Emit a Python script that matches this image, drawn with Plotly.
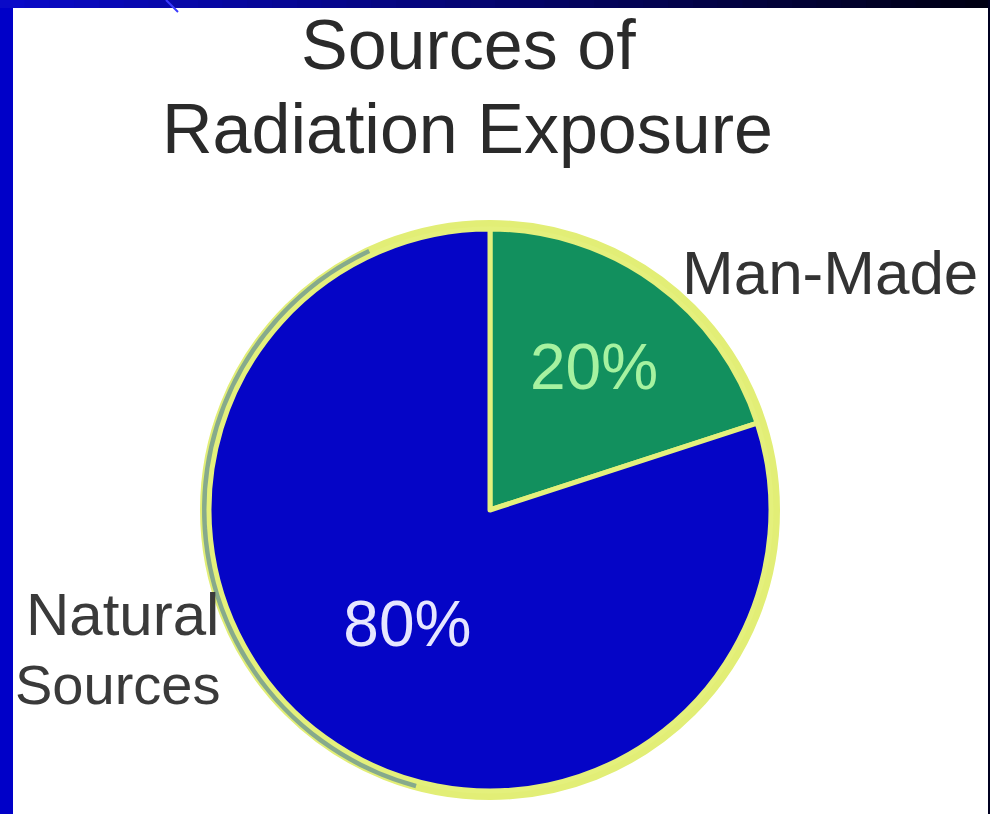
import numpy as np
import plotly.graph_objects as go

# ---- data ----
categories = ["Man-Made", "Natural Sources"]
values = [20, 80]
slice_colors = ["#12905e", "#0505c6"]
pct_colors = ["#a6f2a0", "#e6e6ff"]
title_lines = ["Sources of", "Radiation Exposure"]

W, H = 990, 814
CX, CY, R = 490, 510, 281  # pie centre / radius in pixels (from top-left)


def px(x):
    return x / W


def py(y):
    return 1 - y / H


fnt_title = "Liberation Sans, Arial, sans-serif"
fnt_lab = "Liberation Sans, Arial, sans-serif"

fig = go.Figure()
fig.add_trace(go.Pie(
    labels=categories,
    values=values,
    sort=False,
    direction="clockwise",
    rotation=0,
    marker=dict(colors=slice_colors, line=dict(color="#e4f07c", width=5)),
    texttemplate="%{percent:.0%}",
    textposition="inside",
    insidetextorientation="horizontal",
    insidetextfont=dict(color=pct_colors, size=64, family=fnt_lab),
    hoverinfo="label+percent",
    showlegend=False,
    domain=dict(x=[px(CX - R), px(CX + R)], y=[py(CY + R), py(CY - R)]),
))

shapes = []
# white panel inside the blue frame
shapes.append(dict(type="rect", xref="paper", yref="paper", x0=px(13), x1=px(988),
                   y0=0, y1=py(8), fillcolor="white", line=dict(width=0), layer="below"))
# top gradient bar (blue -> black)
nseg = 40
c0 = np.array([10, 10, 200])
c1 = np.array([0, 0, 20])
for i in range(nseg):
    t = i / (nseg - 1)
    c = (c0 * (1 - t) + c1 * t).astype(int)
    shapes.append(dict(type="rect", xref="paper", yref="paper",
                       x0=i / nseg, x1=(i + 1) / nseg + 0.002, y0=py(8), y1=1,
                       fillcolor=f"rgb({c[0]},{c[1]},{c[2]})", line=dict(width=0), layer="below"))
# right dark edge
shapes.append(dict(type="rect", xref="paper", yref="paper", x0=px(988), x1=1, y0=0, y1=1,
                   fillcolor="#000020", line=dict(width=0), layer="below"))
# small blue stroke at top
shapes.append(dict(type="line", xref="paper", yref="paper", x0=px(166), y0=py(0), x1=px(178), y1=py(12),
                   line=dict(color="#3a3aff", width=2)))
# outer ring of the pie
RR = R + 5
shapes.append(dict(type="circle", xref="paper", yref="paper",
                   x0=px(CX - RR), x1=px(CX + RR), y0=py(CY + RR), y1=py(CY - RR),
                   line=dict(color="#e2ee76", width=8), layer="below"))
# grey-green left arc
ang = np.linspace(np.deg2rad(195), np.deg2rad(335), 60)  # clockwise from top
xs = CX + (RR - 1) * np.sin(ang)
ys = CY - (RR - 1) * np.cos(ang)
path = "M " + " L ".join(f"{px(x):.5f},{py(y):.5f}" for x, y in zip(xs, ys))
shapes.append(dict(type="path", xref="paper", yref="paper", path=path,
                   line=dict(color="#86aa8c", width=6), layer="below"))

annotations = [
    dict(text=title_lines[0], x=px(468), y=py(45), xref="paper", yref="paper",
         xanchor="center", yanchor="middle", showarrow=False,
         font=dict(size=70, color="#2a2a2a", family=fnt_title)),
    dict(text=title_lines[1], x=px(467), y=py(129), xref="paper", yref="paper",
         xanchor="center", yanchor="middle", showarrow=False,
         font=dict(size=70, color="#2a2a2a", family=fnt_title)),
    dict(text=categories[0], x=px(680), y=py(272), xref="paper", yref="paper",
         xanchor="left", yanchor="middle", showarrow=False,
         font=dict(size=62, color="#333333", family=fnt_lab)),
    dict(text=categories[1].split()[0], x=px(24), y=py(614), xref="paper", yref="paper",
         xanchor="left", yanchor="middle", showarrow=False,
         font=dict(size=60, color="#3a3a3a", family=fnt_lab)),
    dict(text=categories[1].split()[1], x=px(13), y=py(684), xref="paper", yref="paper",
         xanchor="left", yanchor="middle", showarrow=False,
         font=dict(size=56, color="#3a3a3a", family=fnt_lab)),
]

fig.update_layout(
    width=W, height=H,
    margin=dict(l=0, r=0, t=0, b=0),
    paper_bgcolor="#0000c8",
    plot_bgcolor="white",
    shapes=shapes,
    annotations=annotations,
)

fig.write_html("out.html")
